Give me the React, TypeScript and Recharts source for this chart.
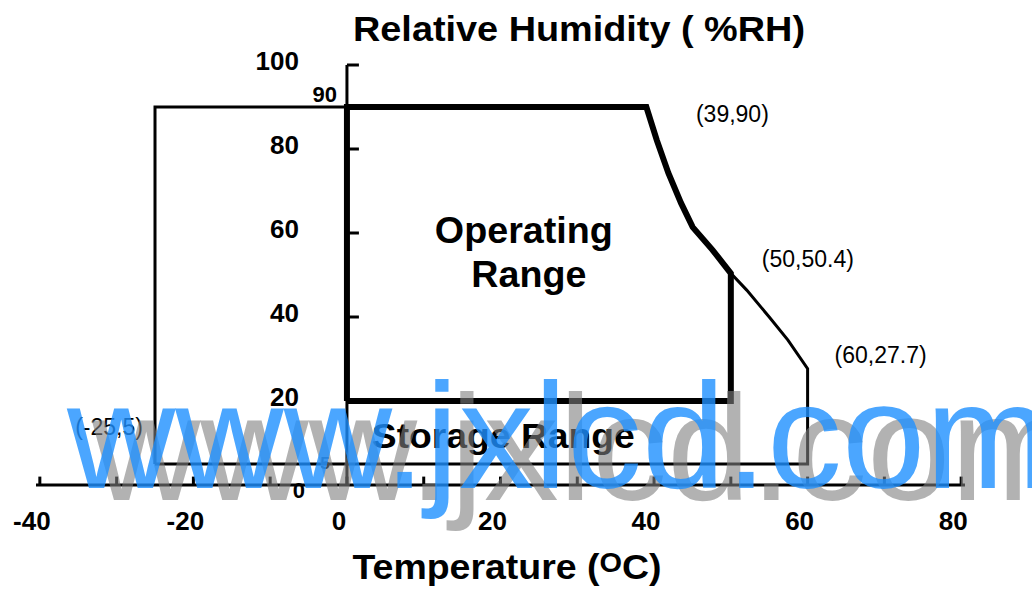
import React from "react";
import { ComposedChart, Line, XAxis, YAxis, ReferenceLine, ReferenceDot } from "recharts";

// Storage range outline (temperature °C, relative humidity %RH)
const storageTemp = [-25, -25, 39, 40.36, 41.86, 43.52, 45.03, 47.6, 50, 52.07, 55.0, 57.44, 60, 60, -25];
const storageRH = [5, 90, 90, 82.1, 74.3, 67.1, 61.4, 56, 50.4, 46.4, 40, 34.5, 27.7, 5, 5];

// Operating range outline
const operatingTemp = [0, 0, 39, 40.36, 41.86, 43.52, 45.03, 47.6, 50, 50, 0];
const operatingRH = [20, 90, 90, 82.1, 74.3, 67.1, 61.4, 56, 50.4, 20, 20];

// Axes
const xTickLabels = [-40, -20, 0, 20, 40, 60, 80];
const xMinorTicks = [-40, -30, -20, -10, 0, 10, 20, 30, 40, 50, 60, 70, 80];
const yTickLabels = [100, 80, 60, 40, 20];
const yTickMarks = [100, 80, 60, 40];

// Corner annotations
const annotTemp = [39, 50, 60, -25];
const annotRH = [90, 50.4, 27.7, 5];
const annotText = ["(39,90)", "(50,50.4)", "(60,27.7)", "(-25,5)"];

const storageData = storageTemp.map((t, i) => ({ t, rh: storageRH[i] }));
const operatingData = operatingTemp.map((t, i) => ({ t, rh: operatingRH[i] }));

const FONT = "'Liberation Sans', Arial, Helvetica, sans-serif";
const annotOffsets = [
  [86, 15],
  [77, -6],
  [73, -6],
  [-46, -29],
];

const textLabel =
  (text: string, dx: number, dy: number, opts: any = {}) =>
  (props: any) => {
    const vb = props.viewBox || {};
    const x = (vb.x || 0) + (vb.width || 0) / 2;
    const y = (vb.y || 0) + (vb.height || 0) / 2;
    return (
      <text
        x={x + dx}
        y={y + dy}
        fontFamily={FONT}
        fill="#000"
        textAnchor={opts.anchor || "middle"}
        fontSize={opts.size || 23}
        fontWeight={opts.weight || "normal"}
        textLength={opts.len}
        lengthAdjust={opts.len ? "spacingAndGlyphs" : undefined}
      >
        {text}
      </text>
    );
  };

const XTick = (p: any) => (
  <text
    x={p.x - 8}
    y={p.y + 45}
    textAnchor="middle"
    fontFamily={FONT}
    fontSize={26}
    fontWeight="bold"
    fill="#000"
  >
    {p.payload.value}
  </text>
);

export default function App() {
  return (
    <div style={{ position: "absolute", left: 0, top: 0, width: 1032, height: 589, background: "#fff" }}>
      <ComposedChart
        width={1032}
        height={589}
        margin={{ top: 65, right: 67, bottom: 74, left: 36 }}
      >
        <XAxis
          dataKey="t"
          type="number"
          domain={[-40.5, 80.5]}
          ticks={xTickLabels}
          allowDataOverflow
          height={30}
          tickSize={0}
          tickMargin={0}
          tickLine={false}
          axisLine={{ stroke: "#000", strokeWidth: 3 }}
          tick={XTick}
        />
        <YAxis type="number" domain={[0, 100]} hide allowDataOverflow />

        {/* y axis drawn at 0 °C */}
        <ReferenceLine x={0} stroke="#000" strokeWidth={3} />
        {yTickMarks.map((v) => (
          <ReferenceLine
            key={"ym" + v}
            segment={[{ x: 0, y: v }, { x: 1.56, y: v }]}
            stroke="#000"
            strokeWidth={3}
          />
        ))}
        {xMinorTicks.map((v) => (
          <ReferenceLine
            key={"xm" + v}
            segment={[{ x: v, y: 0 }, { x: v, y: 2 }]}
            stroke="#000"
            strokeWidth={3}
          />
        ))}

        <Line
          data={storageData}
          dataKey="rh"
          type="linear"
          dot={false}
          stroke="#000"
          strokeWidth={3}
          strokeLinejoin="miter"
          isAnimationActive={false}
        />
        <Line
          data={operatingData}
          dataKey="rh"
          type="linear"
          dot={false}
          stroke="#000"
          strokeWidth={6}
          strokeLinejoin="miter"
          isAnimationActive={false}
        />

        {yTickLabels.map((v) => (
          <ReferenceDot
            key={"yl" + v}
            x={0}
            y={v}
            r={1}
            fill="none"
            stroke="none"
            label={{ content: textLabel(String(v), -48, 5, { anchor: "end", size: 26, weight: "bold" }) }}
          />
        ))}
        <ReferenceDot x={0} y={90} r={1} fill="none" stroke="none"
          label={{ content: textLabel("90", -10, -5, { anchor: "end", size: 22, weight: "bold" }) }} />
        <ReferenceDot x={0} y={5} r={1} fill="none" stroke="none"
          label={{ content: textLabel("5", -22, 5, { size: 17, weight: "bold" }) }} />
        <ReferenceDot x={0} y={0} r={1} fill="none" stroke="none"
          label={{ content: textLabel("0", -48, 13, { size: 22, weight: "bold" }) }} />

        {annotText.map((s, i) => (
          <ReferenceDot
            key={"an" + i}
            x={annotTemp[i]}
            y={annotRH[i]}
            r={1}
            fill="none"
            stroke="none"
            label={{ content: textLabel(s, annotOffsets[i][0], annotOffsets[i][1], { size: 23 }) }}
          />
        ))}

        <ReferenceDot x={25} y={55} r={1} fill="none" stroke="none"
          label={{ content: textLabel("Operating", -15, -11, { size: 36, weight: "bold", len: 178 }) }} />
        <ReferenceDot x={25} y={55} r={1} fill="none" stroke="none"
          label={{ content: textLabel("Range", -10, 33, { size: 36, weight: "bold", len: 115 }) }} />
        <ReferenceDot x={17.5} y={5} r={1} fill="none" stroke="none"
          label={{ content: textLabel("Storage Range", 22, -16, { size: 35, weight: "bold", len: 263 }) }} />
      </ComposedChart>

      <svg
        width={1032}
        height={589}
        style={{ position: "absolute", left: 0, top: 0, pointerEvents: "none" }}
      >
        <text x={579} y={41} textAnchor="middle" fontFamily={FONT} fontSize={35} fontWeight="bold"
          textLength={452} lengthAdjust="spacingAndGlyphs">
          Relative Humidity ( %RH)
        </text>
        <text x={507} y={579} textAnchor="middle" fontFamily={FONT} fontSize={35} fontWeight="bold"
          textLength={309} lengthAdjust="spacingAndGlyphs">
          <tspan>Temperature (</tspan>
          <tspan fontSize={27} dy={-7}>O</tspan>
          <tspan dy={7}>C)</tspan>
        </text>
        <text x={92} y={500} fontFamily={FONT} fontSize={150} fill="#7f7f7f" fillOpacity={0.6}>
          www.jxlcd.com
        </text>
        <text x={67} y={488} fontFamily={FONT} fontSize={150} fill="#1e90ff" fillOpacity={0.8}>
          www.jxlcd.com
        </text>
      </svg>
    </div>
  );
}
